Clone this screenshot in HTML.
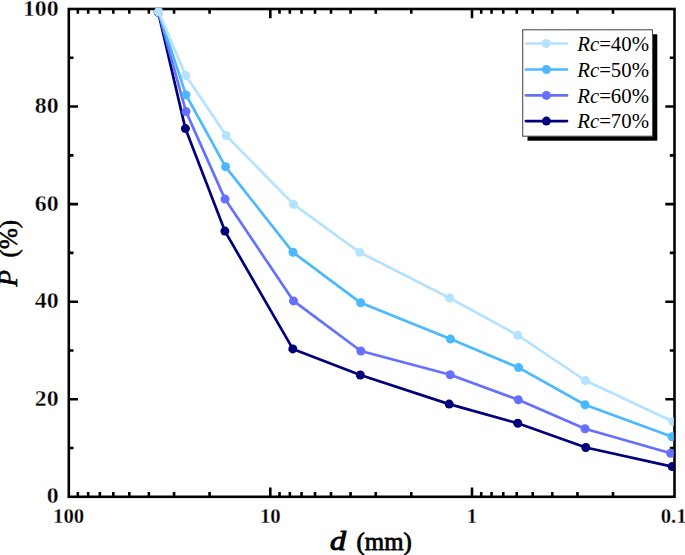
<!DOCTYPE html>
<html lang="en"><head><meta charset="utf-8"><title>P vs d</title>
<style>html,body{margin:0;padding:0;background:#fff;}svg{display:block;}text{font-family:"Liberation Serif","Times New Roman",serif;fill:#000;}</style>
</head><body>
<svg width="685" height="555" viewBox="0 0 685 555">
<rect x="0" y="0" width="685" height="555" fill="#ffffff"/>
<g stroke="#000" stroke-width="2.6" fill="none" stroke-linecap="butt">
<rect x="68.8" y="9.0" width="605.7" height="487.8"/>
<path d="M68.8 448.02h4.7M674.5 448.02h-4.7"/>
<path d="M68.8 399.24h9.2M674.5 399.24h-9.2"/>
<path d="M68.8 350.46h4.7M674.5 350.46h-4.7"/>
<path d="M68.8 301.68h9.2M674.5 301.68h-9.2"/>
<path d="M68.8 252.90h4.7M674.5 252.90h-4.7"/>
<path d="M68.8 204.12h9.2M674.5 204.12h-9.2"/>
<path d="M68.8 155.34h4.7M674.5 155.34h-4.7"/>
<path d="M68.8 106.56h9.2M674.5 106.56h-9.2"/>
<path d="M68.8 57.78h4.7M674.5 57.78h-4.7"/>
<path d="M270.30 496.8v-9.2M270.30 9.0v9.2"/>
<path d="M209.58 496.8v-4.7M209.58 9.0v4.7"/>
<path d="M174.06 496.8v-4.7M174.06 9.0v4.7"/>
<path d="M148.86 496.8v-4.7M148.86 9.0v4.7"/>
<path d="M129.32 496.8v-4.7M129.32 9.0v4.7"/>
<path d="M113.35 496.8v-4.7M113.35 9.0v4.7"/>
<path d="M99.84 496.8v-4.7M99.84 9.0v4.7"/>
<path d="M88.15 496.8v-4.7M88.15 9.0v4.7"/>
<path d="M77.83 496.8v-4.7M77.83 9.0v4.7"/>
<path d="M472.00 496.8v-9.2M472.00 9.0v9.2"/>
<path d="M411.28 496.8v-4.7M411.28 9.0v4.7"/>
<path d="M375.76 496.8v-4.7M375.76 9.0v4.7"/>
<path d="M350.56 496.8v-4.7M350.56 9.0v4.7"/>
<path d="M331.02 496.8v-4.7M331.02 9.0v4.7"/>
<path d="M315.05 496.8v-4.7M315.05 9.0v4.7"/>
<path d="M301.54 496.8v-4.7M301.54 9.0v4.7"/>
<path d="M289.85 496.8v-4.7M289.85 9.0v4.7"/>
<path d="M279.53 496.8v-4.7M279.53 9.0v4.7"/>
<path d="M612.98 496.8v-4.7M612.98 9.0v4.7"/>
<path d="M577.46 496.8v-4.7M577.46 9.0v4.7"/>
<path d="M552.26 496.8v-4.7M552.26 9.0v4.7"/>
<path d="M532.72 496.8v-4.7M532.72 9.0v4.7"/>
<path d="M516.75 496.8v-4.7M516.75 9.0v4.7"/>
<path d="M503.24 496.8v-4.7M503.24 9.0v4.7"/>
<path d="M491.55 496.8v-4.7M491.55 9.0v4.7"/>
<path d="M481.23 496.8v-4.7M481.23 9.0v4.7"/>
</g>
<defs><clipPath id="pc"><rect x="67.5" y="8.1" width="606.3" height="488.8"/></clipPath></defs>
<g clip-path="url(#pc)">
<polyline points="158.2,12.2 185.4,128.6 224.9,231.1 292.8,348.9 360.3,375.0 449.2,404.1 517.8,423.3 585.8,447.5 672.2,466.6" fill="none" stroke="#00007b" stroke-width="2.7" stroke-linejoin="round"/>
<g fill="#00007b"><circle cx="158.2" cy="12.2" r="4.5"/><circle cx="185.4" cy="128.6" r="4.5"/><circle cx="224.9" cy="231.1" r="4.5"/><circle cx="292.8" cy="348.9" r="4.5"/><circle cx="360.3" cy="375.0" r="4.5"/><circle cx="449.2" cy="404.1" r="4.5"/><circle cx="517.8" cy="423.3" r="4.5"/><circle cx="585.8" cy="447.5" r="4.5"/><circle cx="672.2" cy="466.6" r="4.5"/></g>
<polyline points="158.4,12.0 186.0,111.6 225.0,199.1 293.5,300.9 360.9,351.0 450.2,374.8 518.3,399.8 585.0,428.8 670.6,453.2" fill="none" stroke="#6670ff" stroke-width="2.7" stroke-linejoin="round"/>
<g fill="#6670ff"><circle cx="158.4" cy="12.0" r="4.5"/><circle cx="186.0" cy="111.6" r="4.5"/><circle cx="225.0" cy="199.1" r="4.5"/><circle cx="293.5" cy="300.9" r="4.5"/><circle cx="360.9" cy="351.0" r="4.5"/><circle cx="450.2" cy="374.8" r="4.5"/><circle cx="518.3" cy="399.8" r="4.5"/><circle cx="585.0" cy="428.8" r="4.5"/><circle cx="670.6" cy="453.2" r="4.5"/></g>
<polyline points="158.6,11.9 186.0,94.9 225.6,166.8 293.0,252.3 360.7,302.8 450.5,339.1 518.6,367.6 585.0,404.7 672.0,436.8" fill="none" stroke="#4bb9ff" stroke-width="2.7" stroke-linejoin="round"/>
<g fill="#4bb9ff"><circle cx="158.6" cy="11.9" r="4.5"/><circle cx="186.0" cy="94.9" r="4.5"/><circle cx="225.6" cy="166.8" r="4.5"/><circle cx="293.0" cy="252.3" r="4.5"/><circle cx="360.7" cy="302.8" r="4.5"/><circle cx="450.5" cy="339.1" r="4.5"/><circle cx="518.6" cy="367.6" r="4.5"/><circle cx="585.0" cy="404.7" r="4.5"/><circle cx="672.0" cy="436.8" r="4.5"/></g>
<polyline points="158.6,11.8 185.7,75.6 226.2,135.6 293.6,204.4 359.7,252.3 449.7,298.0 517.7,335.2 585.3,380.5 672.8,421.5" fill="none" stroke="#b5e2ff" stroke-width="2.7" stroke-linejoin="round"/>
<g fill="#b5e2ff"><circle cx="158.6" cy="11.8" r="4.5"/><circle cx="185.7" cy="75.6" r="4.5"/><circle cx="226.2" cy="135.6" r="4.5"/><circle cx="293.6" cy="204.4" r="4.5"/><circle cx="359.7" cy="252.3" r="4.5"/><circle cx="449.7" cy="298.0" r="4.5"/><circle cx="517.7" cy="335.2" r="4.5"/><circle cx="585.3" cy="380.5" r="4.5"/><circle cx="672.8" cy="421.5" r="4.5"/></g>
</g>
<g font-size="23.8" font-weight="bold" text-anchor="end" stroke="#fff" stroke-width="0.35">
<text x="58.6" y="503.4">0</text>
<text x="58.6" y="405.8">20</text>
<text x="58.6" y="308.3">40</text>
<text x="58.6" y="210.7">60</text>
<text x="58.6" y="113.2">80</text>
<text x="58.6" y="15.6">100</text>
</g>
<g font-size="20.8" font-weight="bold" text-anchor="middle" stroke="#fff" stroke-width="0.3">
<text x="68.6" y="522.7">100</text>
<text x="270.3" y="522.7">10</text>
<text x="472.0" y="522.7">1</text>
<text x="673.7" y="522.7">0.1</text>
</g>
<g stroke="#000" stroke-width="0.55" stroke-linejoin="round">
<text transform="translate(330.0 549.6) scale(1.22 1)" font-size="26.3" font-style="italic" stroke-width="0.95">d</text>
<text x="356.6" y="549.8" font-size="24.8" stroke-width="0.8">(mm)</text>
<text transform="translate(17.3 286.4) rotate(-90)" font-size="27" font-style="italic">P</text>
<text transform="translate(17.3 257.4) rotate(-90)" font-size="25">(%)</text>
</g>
<rect x="527.5" y="34.3" width="129.8" height="106.4" fill="#000"/>
<rect x="522.7" y="29.8" width="129.8" height="106.4" fill="#fff" stroke="#505050" stroke-width="1.1"/>
<path d="M525.9 43.5H567" stroke="#b5e2ff" stroke-width="2.7" fill="none" stroke-linecap="round"/>
<circle cx="546.4" cy="43.5" r="4.5" fill="#b5e2ff"/>
<text x="577.2" y="50.8" font-size="20.8"><tspan font-style="italic">Rc</tspan>=40%</text>
<path d="M525.9 69.5H567" stroke="#4bb9ff" stroke-width="2.7" fill="none" stroke-linecap="round"/>
<circle cx="546.4" cy="69.5" r="4.5" fill="#4bb9ff"/>
<text x="577.2" y="76.8" font-size="20.8"><tspan font-style="italic">Rc</tspan>=50%</text>
<path d="M525.9 95.4H567" stroke="#6670ff" stroke-width="2.7" fill="none" stroke-linecap="round"/>
<circle cx="546.4" cy="95.4" r="4.5" fill="#6670ff"/>
<text x="577.2" y="102.7" font-size="20.8"><tspan font-style="italic">Rc</tspan>=60%</text>
<path d="M525.9 121.1H567" stroke="#00007b" stroke-width="2.7" fill="none" stroke-linecap="round"/>
<circle cx="546.4" cy="121.1" r="4.5" fill="#00007b"/>
<text x="577.2" y="128.4" font-size="20.8"><tspan font-style="italic">Rc</tspan>=70%</text>
</svg>
</body></html>
